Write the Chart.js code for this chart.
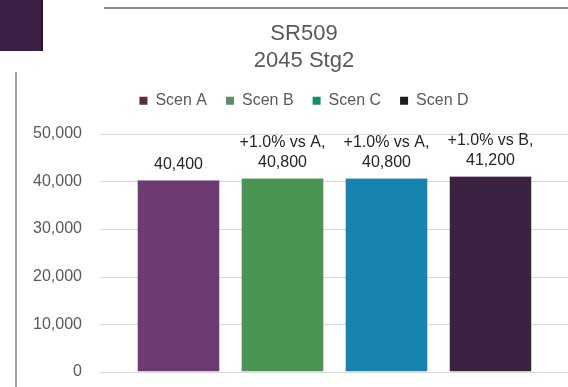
<!DOCTYPE html>
<html>
<head>
<meta charset="utf-8">
<script src="https://cdn.jsdelivr.net/npm/chart.js@4/dist/chart.umd.min.js"></script>
<style>
  html, body { margin: 0; padding: 0; background: #fff; }
  body { width: 568px; height: 387px; position: relative; overflow: hidden; }
  #myChart { position: absolute; left: 0; top: 0; }
  .deco { position: absolute; z-index: 2; }
</style>
</head>
<body>
<canvas id="myChart" width="568" height="387"></canvas>
<div class="deco" style="left:0;top:0;width:41px;height:51px;background:#3c1f45;border-right:2px solid #2a1530;"></div>
<div class="deco" style="left:104px;top:7px;width:464px;height:2px;background:#8e8e8e;"></div>
<div class="deco" style="left:15px;top:72px;width:2px;height:315px;background:#a2a2a2;"></div>
<script>
/* data */
var categories = ['Scen A', 'Scen B', 'Scen C', 'Scen D'];
var volumes = [40400, 40800, 40800, 41200];
var notes = ['', '+1.0% vs A,', '+1.0% vs A,', '+1.0% vs B,'];
var yMax = 50000;
var yStep = 10000;
var titleLines = ['SR509', '2045 Stg2'];

/* colours */
var barColors = ['#6d3a71', '#4b9553', '#1783b0', '#3c2242'];
var legendColors = ['#55303f', '#5f8d6a', '#1a8c6b', '#1c1c1c'];
var font = '"Liberation Sans", Arial, sans-serif';

var datasetses = categories.map((name, i) => ({
  label: name,
  data: volumes.map((v, j) => (j == i ? v : null)),
  backgroundColor: barColors[i],
  borderColor: 'rgba(0,0,0,0.15)',
  borderWidth: 1
}));

/* gridlines across the whole frame, like the excel plot */
var gridPlugin = {
  id: 'wideGrid',
  beforeDatasetsDraw(chart) {
    var ctx = chart.ctx, y = chart.scales.y;
    ctx.save();
    ctx.strokeStyle = '#d9d9d9';
    ctx.lineWidth = 1;
    y.ticks.forEach((t) => {
      var py = Math.round(y.getPixelForValue(t.value)) + 0.5;
      ctx.beginPath();
      ctx.moveTo(100, py);
      ctx.lineTo(chart.width, py);
      ctx.stroke();
    });
    ctx.restore();
  }
};

/* value labels above bars */
var labelPlugin = {
  id: 'barLabels',
  afterDatasetsDraw(chart) {
    var ctx = chart.ctx;
    ctx.save();
    ctx.font = '16px ' + font;
    ctx.fillStyle = '#262626';
    ctx.textAlign = 'center';
    ctx.textBaseline = 'alphabetic';
    categories.forEach((c, i) => {
      var bar = chart.getDatasetMeta(i).data[i];
      var base = bar.y - 11;
      ctx.fillText(volumes[i].toLocaleString('en-US'), bar.x, base);
      if (notes[i]) ctx.fillText(notes[i], bar.x, base - 20);
    });
    ctx.restore();
  }
};

/* extra room under the legend */
var legendGap = {
  id: 'legendGap',
  beforeInit(chart) {
    var fit = chart.legend.fit;
    chart.legend.fit = function() {
      fit.call(chart.legend);
      this.height += 15;
    };
  }
};

/* title + legend sit a bit right of the plot centre */
var centerShift = {
  id: 'centerShift',
  afterLayout(chart) {
    [chart.titleBlock, chart.legend].forEach((b) => {
      var dx = 304 - (b.left + b.right) / 2;
      b.left += dx;
      b.right += dx;
    });
  }
};

var ctx = document.getElementById('myChart').getContext('2d');
var myChart = new Chart(ctx, {
  type: 'bar',
  data: {
    labels: categories,
    datasets: datasetses
  },
  options: {
    responsive: false,
    animation: false,
    layout: { padding: { top: 0, right: 25.5, bottom: 15, left: 0 } },
    datasets: { bar: { grouped: false, categoryPercentage: 1, barPercentage: 0.8 } },
    scales: {
      x: { display: false },
      y: {
        min: 0,
        max: yMax,
        border: { display: false },
        grid: { display: true, color: 'rgba(0,0,0,0)', drawOnChartArea: false, drawTicks: true, tickLength: 41.5 },
        ticks: {
          stepSize: yStep,
          padding: 3,
          color: '#595959',
          font: { family: font, size: 16 },
          callback: (v) => v.toLocaleString('en-US')
        },
        afterFit: (s) => { s.width = 126.5; }
      }
    },
    plugins: {
      tooltip: { enabled: false },
      title: {
        display: true,
        text: titleLines,
        color: '#595959',
        font: { family: font, size: 22, weight: 'normal', lineHeight: 1.2 },
        padding: { top: 21, bottom: 0 }
      },
      legend: {
        display: true,
        labels: {
          boxWidth: 8,
          boxHeight: 8,
          padding: 19,
          color: '#595959',
          font: { family: font, size: 16 },
          generateLabels: (chart) => categories.map((name, i) => ({
            text: name,
            fillStyle: legendColors[i],
            strokeStyle: legendColors[i],
            lineWidth: 0,
            fontColor: '#595959',
            datasetIndex: i
          }))
        }
      }
    }
  },
  plugins: [gridPlugin, labelPlugin, legendGap, centerShift]
});
</script>
</body>
</html>
